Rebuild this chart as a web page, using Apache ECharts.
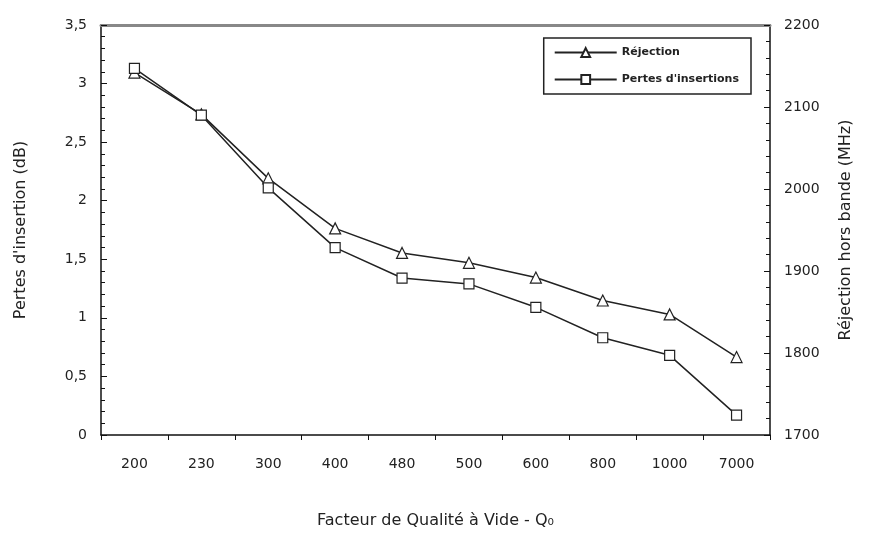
<!DOCTYPE html>
<html>
<head>
<meta charset="utf-8">
<script src="https://cdn.jsdelivr.net/npm/echarts@6/dist/echarts.min.js"></script>
<style>
  html, body { margin: 0; padding: 0; background: #fff; }
  #chart { width: 882px; height: 534px; }
</style>
</head>
<body>
<div id="chart"></div>
<script>
// Facteur de qualité à vide
const categories = ['200', '230', '300', '400', '480', '500', '600', '800', '1000', '7000']
// Pertes d'insertion (dB), axe de gauche
const pertes = [3.13, 2.73, 2.11, 1.6, 1.34, 1.29, 1.09, 0.83, 0.68, 0.17]
// Réjection hors bande (MHz), axe de droite
const rejection = [2142, 2091, 2013, 1952, 1922, 1910, 1892, 1864, 1847, 1795]

const font = 'DejaVu Sans, Verdana, sans-serif'
const chart = echarts.init(document.getElementById('chart'))

const commaFmt = (v) => String(v).replace('.', ',')

const option = {
  animation: false,
  backgroundColor: '#fff',
  grid: { left: 101, right: 112, top: 25, bottom: 97 },
  legend: {
    right: 131,
    top: 38,
    orient: 'vertical',
    itemGap: 16,
    itemWidth: 62,
    itemHeight: 11,
    padding: [9, 12, 9, 10],
    borderColor: '#222',
    borderWidth: 1.5,
    textStyle: { fontFamily: font, fontSize: 11, fontWeight: 'bold', color: '#222' },
    data: ['Réjection', "Pertes d'insertions"],
  },
  xAxis: [
    {
      type: 'category',
      data: categories,
      name: 'Facteur de Qualité à Vide - Q₀',
      nameLocation: 'middle',
      nameGap: 78,
      nameTextStyle: { fontFamily: font, fontSize: 16, color: '#222' },
      axisLine: { lineStyle: { color: '#111', width: 1.5 } },
      axisTick: { show: true, length: 5, lineStyle: { color: '#111' } },
      axisLabel: { fontFamily: font, fontSize: 14, color: '#222', margin: 22 },
      splitLine: { show: false },
    },
    {
      type: 'category',
      data: categories,
      position: 'top',
      axisLine: { lineStyle: { color: '#888', width: 3 } },
      axisTick: { show: false },
      axisLabel: { show: false },
    },
  ],
  yAxis: [
    {
      type: 'value',
      min: 0,
      max: 3.5,
      interval: 0.5,
      name: "Pertes d'insertion (dB)",
      nameLocation: 'middle',
      nameGap: 72,
      nameTextStyle: { fontFamily: font, fontSize: 16, color: '#222' },
      axisLine: { show: true, lineStyle: { color: '#111', width: 1.5 } },
      axisTick: { show: true, inside: true, length: 6, lineStyle: { color: '#111' } },
      minorTick: { show: true, splitNumber: 5, length: 4, lineStyle: { color: '#111' } },
      axisLabel: { fontFamily: font, fontSize: 14, color: '#222', margin: 14, formatter: commaFmt },
      splitLine: { show: false },
    },
    {
      type: 'value',
      min: 1700,
      max: 2200,
      interval: 100,
      position: 'right',
      name: 'Réjection hors bande (MHz)',
      nameLocation: 'middle',
      nameGap: 68,
      nameRotate: 90,
      nameTextStyle: { fontFamily: font, fontSize: 16, color: '#222' },
      axisLine: { show: true, lineStyle: { color: '#111', width: 1.5 } },
      axisTick: { show: true, inside: true, length: 6, lineStyle: { color: '#111' } },
      minorTick: { show: true, splitNumber: 5, length: 4, lineStyle: { color: '#111' } },
      axisLabel: { fontFamily: font, fontSize: 14, color: '#222', margin: 14, formatter: (v) => String(v) },
      splitLine: { show: false },
    },
  ],
  series: [
    {
      name: 'Réjection',
      type: 'line',
      yAxisIndex: 1,
      data: rejection,
      symbol: 'triangle',
      symbolSize: 11,
      itemStyle: { color: '#fff', borderColor: '#222', borderWidth: 1.2 },
      lineStyle: { color: '#222', width: 1.5 },
    },
    {
      name: "Pertes d'insertions",
      type: 'line',
      yAxisIndex: 0,
      data: pertes,
      symbol: 'rect',
      symbolSize: 10,
      itemStyle: { color: '#fff', borderColor: '#222', borderWidth: 1.2 },
      lineStyle: { color: '#222', width: 1.5 },
    },
  ],
}

chart.setOption(option)
</script>
</body>
</html>
